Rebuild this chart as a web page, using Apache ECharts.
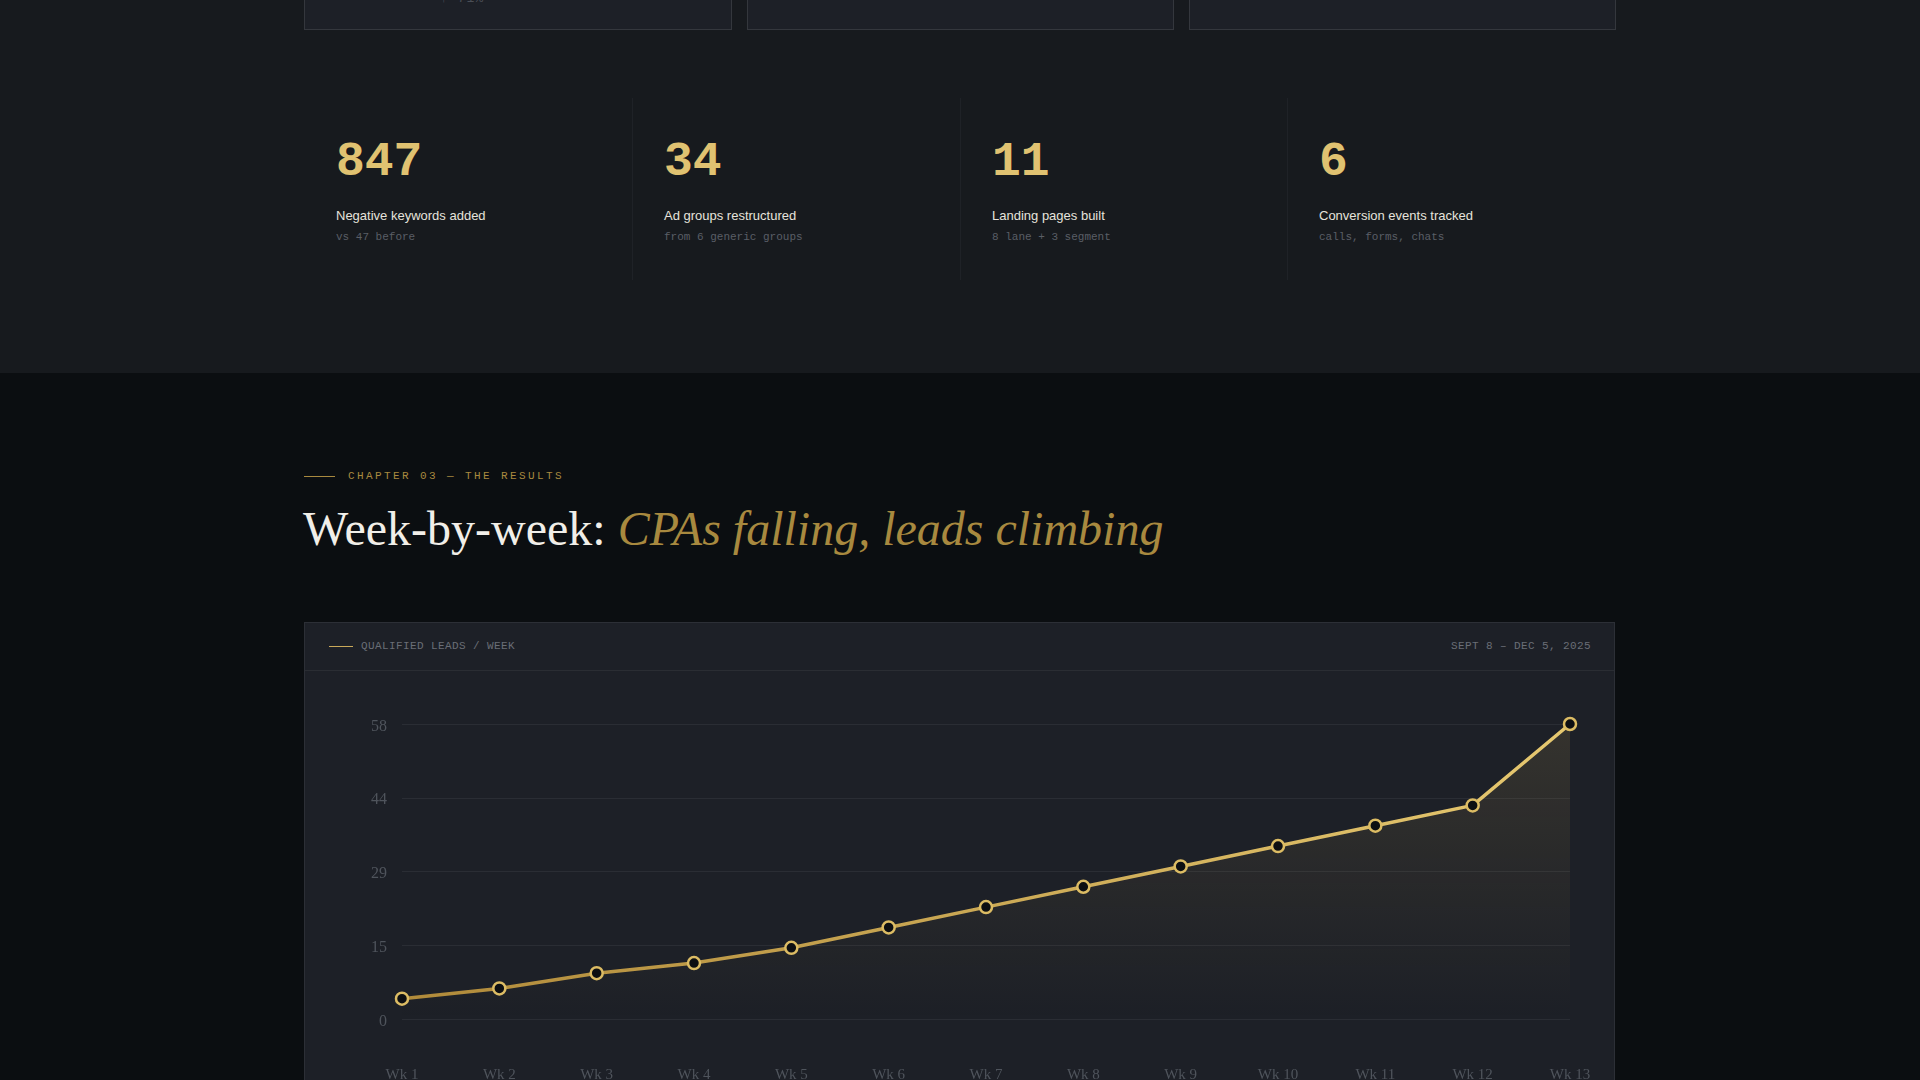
<!DOCTYPE html>
<html>
<head>
<meta charset="utf-8">
<script src="https://cdn.jsdelivr.net/npm/echarts@6/dist/echarts.min.js"></script>
<style>
  html, body { margin:0; padding:0; width:1920px; height:1080px; overflow:hidden; background:#0b0e11; }
  .abs { position:absolute; }
  #top { left:0; top:0; width:1920px; height:373px; background:#171a1e; }
  .tbox { top:-2px; height:32px; background:#1d2027; border:1px solid #34373d; border-top:none; box-sizing:border-box; }
  .num { font-family:"Liberation Mono", monospace; font-weight:bold; font-size:48px; line-height:48px; color:#e0c271; white-space:nowrap; }
  .lbl { font-family:"Liberation Sans", Arial, sans-serif; font-size:13px; line-height:13px; color:#e6e3dc; white-space:nowrap; }
  .sub { font-family:"Liberation Mono", monospace; font-size:11px; line-height:11px; color:#5a5e66; white-space:nowrap; }
  .div { width:1px; top:98px; height:182px; background:#1f2227; }
  .mono { font-family:"Liberation Mono", monospace; white-space:nowrap; }
  #card { left:304px; top:622px; width:1311px; height:480px; background:#1d2027; border:1px solid #2c2f36; box-sizing:border-box; }
  #chart { left:304px; top:670px; width:1311px; height:430px; }
</style>
</head>
<body>
<script>
// ---- data ----
const weeks = ["Wk 1","Wk 2","Wk 3","Wk 4","Wk 5","Wk 6","Wk 7","Wk 8","Wk 9","Wk 10","Wk 11","Wk 12","Wk 13"];
const qualifiedLeads = [4, 6, 9, 11, 14, 18, 22, 26, 30, 34, 38, 42, 58];
const yMin = 0;
const yMax = 58;
const yInterval = 14.5;
const statNumbers = ["847", "34", "11", "6"];
const statLabels = ["Negative keywords added", "Ad groups restructured", "Landing pages built", "Conversion events tracked"];
const statSubs = ["vs 47 before", "from 6 generic groups", "8 lane + 3 segment", "calls, forms, chats"];
const chapterText = "CHAPTER 03 \u2014 THE RESULTS";
const titlePlain = "Week-by-week: ";
const titleItalic = "CPAs falling, leads climbing";
const cardTitle = "QUALIFIED LEADS / WEEK";
const cardRange = "SEPT 8 \u2013 DEC 5, 2025";
</script>

<div id="top" class="abs"></div>
<div class="abs tbox" style="left:304px;width:428px;"></div>
<div class="abs tbox" style="left:747px;width:427px;"></div>
<div class="abs tbox" style="left:1189px;width:427px;"></div>
<div class="abs mono" style="left:440px;top:-9px;font-size:13px;color:#4a4e56;letter-spacing:1px;">↑ 71%</div>

<div id="stats"></div>

<div class="abs" style="left:304px;top:476px;width:31px;height:1px;background:#a8893f;"></div>
<div id="chapter" class="abs mono" style="left:348px;top:471px;font-size:11px;line-height:11px;letter-spacing:2.4px;color:#a8893f;"></div>
<div id="title" class="abs" style="left:303px;top:505px;font-family:'Liberation Serif',serif;font-size:48px;line-height:48px;color:#f1eee8;white-space:nowrap;"></div>

<div id="card" class="abs"></div>
<div class="abs" style="left:305px;top:670px;width:1309px;height:1px;background:#2a2d33;"></div>
<div class="abs" style="left:329px;top:646px;width:24px;height:1px;background:#c9a95a;"></div>
<div id="ctitle" class="abs mono" style="left:361px;top:641px;font-size:11px;line-height:11px;letter-spacing:0.4px;color:#6a6e76;"></div>
<div id="crange" class="abs mono" style="right:329px;top:641px;font-size:11px;line-height:11px;letter-spacing:0.4px;color:#6a6e76;"></div>

<div id="chart" class="abs"></div>

<script>
// build stats row
const stats = document.getElementById('stats');
const colW = 1311 / 4;
for (let i = 0; i < statNumbers.length; i++) {
  const x = 304 + i * colW;
  if (i > 0) {
    const d = document.createElement('div');
    d.className = 'abs div';
    d.style.left = Math.round(x) + 'px';
    stats.appendChild(d);
  }
  const n = document.createElement('div');
  n.className = 'abs num';
  n.style.left = Math.round(x + 32) + 'px';
  n.style.top = '138px';
  n.textContent = statNumbers[i];
  stats.appendChild(n);
  const l = document.createElement('div');
  l.className = 'abs lbl';
  l.style.left = Math.round(x + 32) + 'px';
  l.style.top = '209px';
  l.textContent = statLabels[i];
  stats.appendChild(l);
  const s = document.createElement('div');
  s.className = 'abs sub';
  s.style.left = Math.round(x + 32) + 'px';
  s.style.top = '232px';
  s.textContent = statSubs[i];
  stats.appendChild(s);
}
document.getElementById('chapter').textContent = chapterText;
const t = document.getElementById('title');
t.appendChild(document.createTextNode(titlePlain));
const it = document.createElement('span');
it.style.fontStyle = 'italic';
it.style.color = '#a8893f';
it.textContent = titleItalic;
t.appendChild(it);
document.getElementById('ctitle').textContent = cardTitle;
document.getElementById('crange').textContent = cardRange;

// chart
const chart = echarts.init(document.getElementById('chart'), null, { renderer: 'canvas' });
chart.setOption({
  backgroundColor: 'transparent',
  animation: false,
  grid: { left: 98, right: 45, top: 54, bottom: 81 },
  xAxis: {
    type: 'category',
    data: weeks,
    boundaryGap: false,
    axisLine: { show: false },
    axisTick: { show: false },
    axisLabel: { color: '#4f545c', fontFamily: 'Liberation Serif', fontSize: 15, margin: 49 }
  },
  yAxis: {
    type: 'value',
    min: yMin,
    max: yMax,
    interval: yInterval,
    axisLine: { show: false },
    axisTick: { show: false },
    splitLine: { lineStyle: { color: '#2a2d34', width: 1 } },
    axisLabel: {
      color: '#4f545c', fontFamily: 'Liberation Serif', fontSize: 16, margin: 15,
      verticalAlign: 'top', lineHeight: 5,
      formatter: v => String(Math.round(v))
    }
  },
  series: [{
    type: 'line',
    data: qualifiedLeads,
    symbol: 'circle',
    symbolSize: 12,
    showAllSymbol: true,
    lineStyle: {
      width: 3.5,
      color: new echarts.graphic.LinearGradient(0, 0, 1, 0, [
        { offset: 0, color: '#b08a3a' },
        { offset: 1, color: '#e6c870' }
      ])
    },
    itemStyle: {
      color: '#0d0f12',
      borderColor: '#dcbc64',
      borderWidth: 2.5
    },
    areaStyle: {
      color: new echarts.graphic.LinearGradient(0, 0, 0, 1, [
        { offset: 0, color: 'rgba(201,168,90,0.2)' },
        { offset: 1, color: 'rgba(201,168,90,0)' }
      ])
    }
  }]
});
</script>
</body>
</html>
